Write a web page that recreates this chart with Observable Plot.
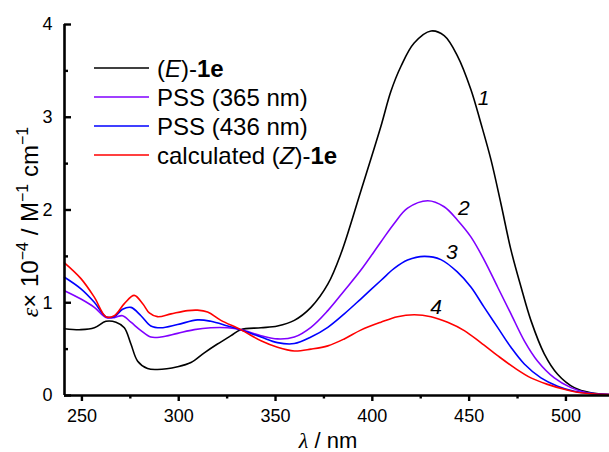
<!DOCTYPE html>
<html><head><meta charset="utf-8">
<script src="https://cdn.jsdelivr.net/npm/d3@7"></script>
<script src="https://cdn.jsdelivr.net/npm/@observablehq/plot@0.6"></script>
<style>html,body{margin:0;padding:0;background:#fff} svg{display:block}</style>
</head><body><div id="chart"></div>
<script>
// ---- data ----
const seriesNames = ["(E)-1e", "PSS (365 nm)", "PSS (436 nm)", "calculated (Z)-1e"];
const seriesColors = ["#000000", "#8000ff", "#0000ff", "#ff0000"];

const wlE = [241, 249.5, 256.4, 262.4, 267.6, 271.9, 275.3, 278.8, 283.9, 289, 299.4, 306.3, 313.2, 320, 327, 332, 342.5, 351, 359.7, 368.3, 377, 383.8, 394, 404.4, 409.6, 414.8, 421.6, 430.3, 437.1, 444, 450.9, 456, 461.3, 466.4, 471.6, 476.8, 481.9, 488.8, 495.7, 504.3, 512.9, 522.5];
const epsE = [0.72, 0.71, 0.73, 0.80, 0.79, 0.73, 0.555, 0.37, 0.29, 0.28, 0.31, 0.355, 0.46, 0.555, 0.645, 0.71, 0.73, 0.75, 0.81, 0.95, 1.2, 1.53, 2.2, 2.9, 3.28, 3.55, 3.80, 3.93, 3.88, 3.66, 3.30, 2.94, 2.54, 2.07, 1.57, 1.17, 0.81, 0.45, 0.23, 0.085, 0.03, 0.01];

const wl365 = [241, 249.5, 256.4, 262.4, 266.7, 271, 275.3, 280.5, 285.6, 290.8, 299.4, 308, 316.6, 325.3, 332, 342.5, 351, 359.7, 368.3, 377, 385.5, 394, 404.4, 411.3, 418.2, 428.6, 437.1, 444, 450.9, 457.8, 464.7, 471.6, 478.5, 485.4, 494, 502.6, 511, 522.5];
const eps365 = [1.13, 1.04, 0.95, 0.84, 0.84, 0.86, 0.79, 0.70, 0.63, 0.63, 0.67, 0.71, 0.73, 0.73, 0.71, 0.645, 0.61, 0.63, 0.735, 0.915, 1.13, 1.35, 1.655, 1.855, 2.02, 2.10, 2.035, 1.89, 1.71, 1.46, 1.17, 0.88, 0.59, 0.37, 0.19, 0.085, 0.03, 0.01];

const wl436 = [241, 249.5, 256.4, 262.4, 266.7, 271, 275.3, 280.5, 285.6, 290.8, 299.4, 309.7, 316.6, 325.3, 332, 342.5, 351, 359.7, 368.3, 377, 385.5, 394, 404.4, 411.3, 418.2, 426.8, 435.4, 444, 450.9, 457.8, 464.7, 471.6, 478.5, 487.1, 495.7, 504.3, 513, 522.5];
const eps436 = [1.275, 1.15, 1.005, 0.85, 0.85, 0.93, 0.95, 0.86, 0.75, 0.73, 0.765, 0.815, 0.80, 0.75, 0.71, 0.63, 0.57, 0.56, 0.63, 0.735, 0.88, 1.04, 1.24, 1.37, 1.46, 1.50, 1.465, 1.33, 1.17, 0.95, 0.735, 0.52, 0.34, 0.19, 0.10, 0.045, 0.02, 0.01];

const wlZ = [241, 249.5, 256.4, 262.4, 266.7, 271.9, 277, 281.4, 284.8, 289, 296, 304.6, 309.7, 314.9, 321.8, 332, 342.5, 351, 359.7, 368.3, 377, 385.5, 394, 404.4, 413, 421.6, 430.3, 438.9, 447.5, 456, 464.7, 473.3, 481.9, 490.5, 499.1, 507.7, 522.5];
const epsZ = [1.43, 1.26, 1.06, 0.85, 0.86, 0.99, 1.08, 0.99, 0.89, 0.85, 0.88, 0.915, 0.92, 0.90, 0.81, 0.71, 0.59, 0.52, 0.48, 0.50, 0.535, 0.61, 0.705, 0.79, 0.85, 0.87, 0.85, 0.79, 0.70, 0.57, 0.43, 0.30, 0.19, 0.12, 0.067, 0.03, 0.01];

const xMajorTicks = [250, 300, 350, 400, 450, 500];
const xMinorTicks = [275, 325, 375, 425, 475];
const yMajorTicks = [0, 1, 2, 3, 4];
const yMinorTicks = [0.5, 1.5, 2.5, 3.5];

const curveLabelText = ["1", "2", "3", "4"];
const curveLabelWl = [457.5, 447.3, 441.1, 432.9];
const curveLabelEps = [3.21, 2.02, 1.54, 0.95];

// ---- build tables ----
const allWl = [wlE, wl365, wl436, wlZ];
const allEps = [epsE, eps365, eps436, epsZ];
const rows = [];
seriesNames.forEach((name, i) => allWl[i].forEach((w, j) => rows.push({series: name, wl: w, eps: allEps[i][j]})));
const labels = curveLabelText.map((t, i) => ({label: t, wl: curveLabelWl[i], eps: curveLabelEps[i]}));

const FONT = "'Liberation Sans', Arial, sans-serif";

const chart = Plot.plot({
  width: 609, height: 452,
  marginLeft: 64, marginRight: 0, marginTop: 24, marginBottom: 57,
  style: {fontFamily: FONT, fontSize: "18px", color: "#000", background: "#fff", overflow: "visible"},
  x: {domain: [241, 522.5]},
  y: {domain: [0, 4]},
  color: {domain: seriesNames, range: seriesColors},
  marks: [
    Plot.line(rows, {x: "wl", y: "eps", z: "series", stroke: "series", strokeWidth: 1.6, curve: "catmull-rom"}),
    Plot.ruleY([0], {stroke: "#000", strokeWidth: 2.6}),
    Plot.ruleX([241], {stroke: "#000", strokeWidth: 2.6}),
    // x axis: outward ticks
    Plot.axisX({ticks: xMajorTicks, tickSize: 6, tickPadding: 8, tickFormat: d => String(d), label: null, strokeWidth: 2.4}),
    Plot.axisX({ticks: xMinorTicks, tickSize: 3.5, text: null, label: null, strokeWidth: 2.4}),
    // y axis: labels, then inward ticks (shifted inside the frame)
    Plot.axisY({ticks: yMajorTicks, tickSize: 0, tickPadding: 12, tickFormat: d => String(d), label: null}),
    Plot.axisY({ticks: yMajorTicks, tickSize: 7, dx: 7, text: null, label: null, strokeWidth: 2.4}),
    Plot.axisY({ticks: yMinorTicks, tickSize: 4, dx: 4, text: null, label: null, strokeWidth: 2.4}),
    Plot.text(labels, {x: "wl", y: "eps", text: "label", fontStyle: "italic", fontSize: 21})
  ]
});
document.getElementById("chart").appendChild(chart);

// ---- titles & legend ----
const svg = d3.select(chart);
const SERIF = "'Liberation Serif', 'Times New Roman', serif";

// x axis title
const xt = svg.append("text").attr("x", 328).attr("y", 448).attr("text-anchor", "middle")
  .attr("font-size", 22).attr("font-family", FONT).attr("fill", "#000");
xt.append("tspan").attr("font-family", SERIF).attr("font-style", "italic").text("λ");
xt.append("tspan").text(" / nm");

// y axis title
const yt = svg.append("text").attr("transform", "translate(38,222) rotate(-90)").attr("text-anchor", "middle")
  .attr("font-size", 24).attr("font-family", FONT).attr("fill", "#000");
yt.append("tspan").attr("font-family", SERIF).attr("font-style", "italic").text("ε");
yt.append("tspan").text("× 10");
yt.append("tspan").attr("dy", -10).attr("font-size", 16).text("−4");
yt.append("tspan").attr("dy", 10).text(" / M");
yt.append("tspan").attr("dy", -10).attr("font-size", 16).text("−1");
yt.append("tspan").attr("dy", 10).text(" cm");
yt.append("tspan").attr("dy", -10).attr("font-size", 16).text("−1");

// legend
const legendY = [68, 97, 126, 155];
const lg = svg.append("g").attr("font-family", FONT).attr("font-size", 24).attr("fill", "#000").attr("text-anchor", "start");
seriesNames.forEach((name, i) => {
  const y = legendY[i];
  lg.append("line").attr("x1", 94).attr("x2", 149).attr("y1", y).attr("y2", y)
    .attr("stroke", seriesColors[i]).attr("stroke-width", 1.6);
  const t = lg.append("text").attr("x", 157).attr("y", y).attr("dy", "0.36em").attr("text-anchor", "start");
  if (i === 0) {
    t.append("tspan").text("(");
    t.append("tspan").attr("font-style", "italic").text("E");
    t.append("tspan").text(")-");
    t.append("tspan").attr("font-weight", "bold").text("1e");
  } else if (i === 3) {
    t.append("tspan").text("calculated (");
    t.append("tspan").attr("font-style", "italic").text("Z");
    t.append("tspan").text(")-");
    t.append("tspan").attr("font-weight", "bold").text("1e");
  } else {
    t.text(name);
  }
});
</script>
</body></html>
